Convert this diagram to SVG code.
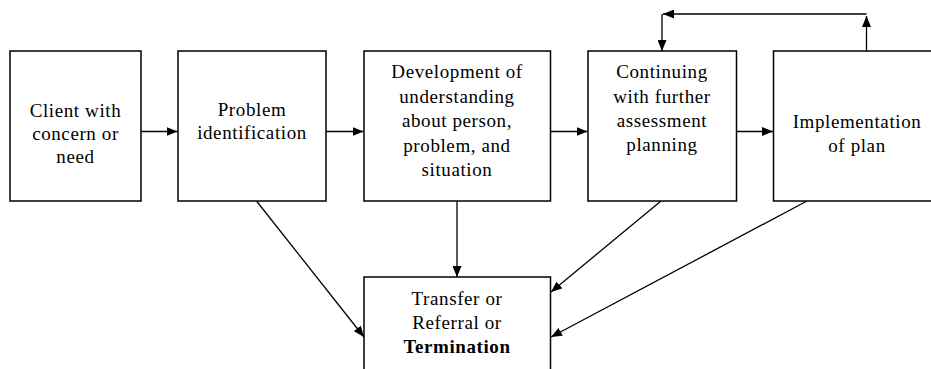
<svg xmlns="http://www.w3.org/2000/svg" width="931" height="369" viewBox="0 0 931 369">
<style>
.box{fill:#fff;stroke:#000;stroke-width:1.5}
.t{font-family:'Liberation Serif','Times New Roman',serif;font-size:19px;letter-spacing:0.6px;text-anchor:middle;fill:#000}
.b{font-weight:bold}
.c{fill:none;stroke:#000;stroke-width:1.3}
</style>
<defs>
<marker id="ah" viewBox="0 0 11 9" refX="11" refY="4.5" markerWidth="11" markerHeight="9" markerUnits="userSpaceOnUse" orient="auto">
<path d="M0,0 L11,4.5 L0,9 Z" fill="#000"/>
</marker>
</defs>
<rect width="931" height="369" fill="#fff"/>
<g id="connectors">
<line class="c" x1="141" y1="131.5" x2="177.5" y2="131.5" marker-end="url(#ah)"/>
<line class="c" x1="326" y1="131.5" x2="363.5" y2="131.5" marker-end="url(#ah)"/>
<line class="c" x1="550.5" y1="131.5" x2="587.5" y2="131.5" marker-end="url(#ah)"/>
<line class="c" x1="736.5" y1="131.5" x2="773" y2="131.5" marker-end="url(#ah)"/>
<line class="c" x1="866.5" y1="51" x2="866.5" y2="16" marker-end="url(#ah)"/>
<line class="c" x1="866.5" y1="14" x2="663" y2="14" marker-end="url(#ah)"/>
<line class="c" x1="662" y1="14" x2="662" y2="51" marker-end="url(#ah)"/>
<line class="c" x1="256.5" y1="201" x2="364" y2="337" marker-end="url(#ah)"/>
<line class="c" x1="457" y1="201" x2="457" y2="277" marker-end="url(#ah)"/>
<line class="c" x1="661" y1="201" x2="551" y2="292" marker-end="url(#ah)"/>
<line class="c" x1="807" y1="201" x2="551" y2="337" marker-end="url(#ah)"/>
</g>
<g id="n1">
<rect class="box" x="10" y="51" width="131" height="150"/>
<text class="t" x="75.5" y="116.5">Client with</text>
<text class="t" x="75.5" y="140">concern or</text>
<text class="t" x="75.5" y="163">need</text>
</g>
<g id="n2">
<rect class="box" x="178" y="51" width="148" height="150"/>
<text class="t" x="252" y="115.5">Problem</text>
<text class="t" x="252" y="138.5">identification</text>
</g>
<g id="n3">
<rect class="box" x="364" y="51" width="186.5" height="150"/>
<text class="t" x="457" y="78">Development of</text>
<text class="t" x="457" y="102.5">understanding</text>
<text class="t" x="457" y="127">about person,</text>
<text class="t" x="457" y="151.5">problem, and</text>
<text class="t" x="457" y="176">situation</text>
</g>
<g id="n4">
<rect class="box" x="588" y="51" width="148.5" height="150"/>
<text class="t" x="662" y="78">Continuing</text>
<text class="t" x="662" y="102.5">with further</text>
<text class="t" x="662" y="127">assessment</text>
<text class="t" x="662" y="150.5">planning</text>
</g>
<g id="n5">
<rect class="box" x="773.5" y="51" width="167" height="150"/>
<text class="t" x="857" y="128">Implementation</text>
<text class="t" x="857" y="152">of plan</text>
</g>
<g id="n6">
<rect class="box" x="364" y="277" width="186.5" height="110"/>
<text class="t" x="457" y="305">Transfer or</text>
<text class="t" x="457" y="329">Referral or</text>
<text class="t b" x="457" y="352.5">Termination</text>
</g>
</svg>
